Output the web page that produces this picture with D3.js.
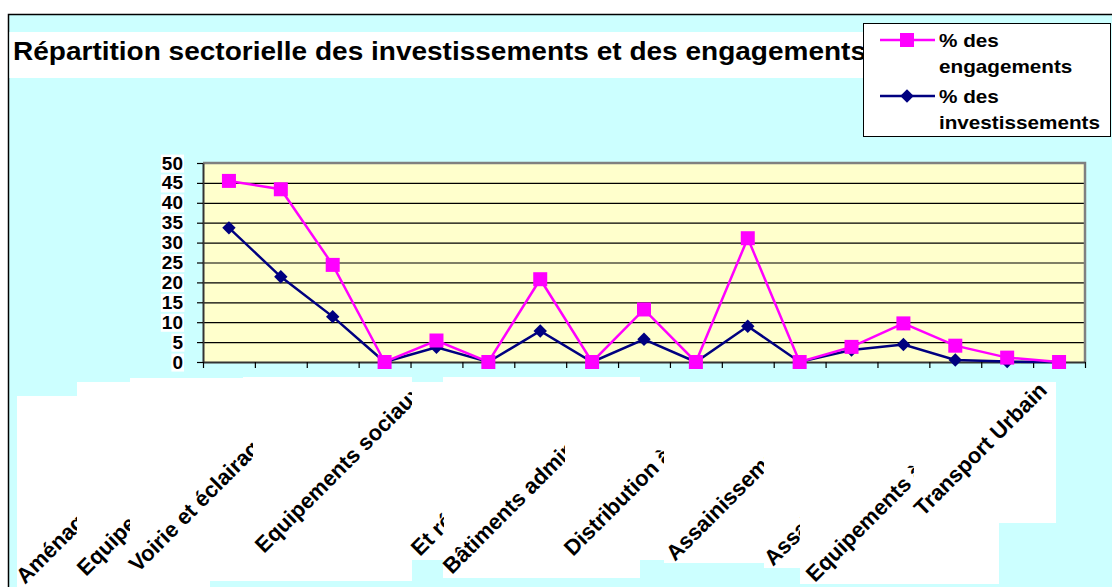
<!DOCTYPE html>
<html>
<head>
<meta charset="utf-8">
<script src="https://cdn.jsdelivr.net/npm/d3@7"></script>
<style>
body{margin:0;background:#fff}
svg{display:block;font-family:"Liberation Sans",Arial,sans-serif}
</style>
</head>
<body>
<script>
// data
var titre="Répartition sectorielle des investissements et des engagements"
var serieNoms=[["% des","engagements"],["% des","investissements"]]
var engagements=[45.5,43.4,24.4,0,5.4,0,20.8,0,13.2,0,31.1,0,3.8,9.7,4.1,1.1,0]
var investissements=[33.7,21.4,11.4,0,3.7,0,7.8,0,5.7,0,9.0,0,3.0,4.4,0.5,0.1,0]
var yTicks=[0,5,10,15,20,25,30,35,40,45,50]
var secteurs=["Aménagement urbain","Equipements commerciaux","Voirie et éclairage public",
  "Equipements sociaux","Et réseaux","Bâtiments administratifs","Distribution à domicile",
  "Assainissement liquide","Assainissement solide","Equipements à caractère économique","Transport Urbain"]

var screen={width:1112,height:587}
var plot={left:203,right:1085,top:163,bottom:362}
var pink="#FF00FF", navy="#000080"

var svg=d3.select("body").append("svg")
          .attr("width",screen.width)
          .attr("height",screen.height)

// chart frame
svg.append("rect")
   .attr("x",8.5).attr("y",14.5)
   .attr("width",screen.width+10).attr("height",screen.height)
   .attr("fill","#CCFFFF").attr("stroke","#000").attr("stroke-width",1.5)

// title band
svg.append("rect").attr("x",9.5).attr("y",32).attr("width",860).attr("height",46).attr("fill","#fff")
svg.append("text")
   .attr("x",13).attr("y",60)
   .attr("font-size",25).attr("font-weight","bold")
   .attr("textLength",853).attr("lengthAdjust","spacingAndGlyphs")
   .text(titre)

var n=engagements.length
var xScale=d3.scaleLinear().domain([0,n]).range([plot.left,plot.right])
var yScale=d3.scaleLinear().domain([0,50]).range([plot.bottom,plot.top])

// plot area + grid
svg.append("rect")
   .attr("x",plot.left).attr("y",plot.top)
   .attr("width",plot.right-plot.left).attr("height",plot.bottom-plot.top)
   .attr("fill","#FFFFCC")
svg.append("g").selectAll("line")
   .data(yTicks.filter(function(d){return d>0&&d<50}))
   .enter().append("line")
   .attr("x1",plot.left).attr("x2",plot.right)
   .attr("y1",function(d){return yScale(d)+0.5}).attr("y2",function(d){return yScale(d)+0.5})
   .attr("stroke","#000").attr("stroke-width",1.2)
svg.append("path")
   .attr("d","M"+plot.left+","+plot.top+"H"+plot.right+"V"+plot.bottom)
   .attr("fill","none").attr("stroke","#808080").attr("stroke-width",2.5)

// axes
var yAxis=d3.axisLeft(yScale).tickValues(yTicks).tickSize(6).tickSizeOuter(0).tickPadding(14)
var gy=svg.append("g").attr("transform","translate("+plot.left+",0)").call(yAxis)
gy.select(".domain").attr("stroke","#333").attr("stroke-width",2)
gy.selectAll(".tick line").attr("stroke","#000").attr("stroke-width",1.2)
gy.selectAll(".tick text").attr("font-size",19).attr("font-weight","bold").attr("fill","#000")
  .attr("font-family","Liberation Sans, Arial, sans-serif")
gy.selectAll(".tick").each(function(){
  var t=d3.select(this).select("text"), b=t.node().getBBox()
  d3.select(this).insert("rect","text")
    .attr("x",b.x-1).attr("y",b.y+2).attr("width",b.width+2).attr("height",b.height-3)
    .attr("fill","#fff")
})

var xAxis=d3.axisBottom(xScale).tickValues(d3.range(n+1)).tickSize(6).tickSizeOuter(0).tickFormat("")
var gx=svg.append("g").attr("transform","translate(0,"+plot.bottom+")").call(xAxis)
gx.select(".domain").attr("stroke","#333").attr("stroke-width",2)
gx.selectAll(".tick line").attr("stroke","#000").attr("stroke-width",1.2)

// lines and markers
var drawLine=d3.line()
               .x(function(d,i){return xScale(i+0.5)})
               .y(function(d){return yScale(d)})
var diamond=d3.symbol(d3.symbolSquare,90)

svg.append("path").datum(investissements)
   .attr("d",drawLine).attr("fill","none").attr("stroke",navy).attr("stroke-width",2.5)
svg.append("g").selectAll("path").data(investissements).enter().append("path")
   .attr("d",diamond)
   .attr("transform",function(d,i){return "translate("+xScale(i+0.5)+","+yScale(d)+") rotate(45)"})
   .attr("fill",navy)

svg.append("path").datum(engagements)
   .attr("d",drawLine).attr("fill","none").attr("stroke",pink).attr("stroke-width",2.5)
svg.append("g").selectAll("rect").data(engagements).enter().append("rect")
   .attr("x",function(d,i){return xScale(i+0.5)-7})
   .attr("y",function(d){return yScale(d)-7})
   .attr("width",14).attr("height",14)
   .attr("fill",pink)

// category labels: white boxes, each label cut where the next box begins
var labelLayout=[
  {box:[17,396,77,600],cut:77,sx:25,sy:585},
  {box:[77,382,210,600],cut:130,sx:86,sy:577},
  {box:[130,378,333,581],cut:253,sx:138,sy:573},
  {box:[243,377,412,581],cut:412,sx:264,sy:554},
  {box:[333,382,444,560],cut:444,sx:420,sy:557},
  {box:[443,377,640,578],cut:565,sx:452,sy:575},
  {box:[555,382,664,560],cut:664,sx:573,sy:557},
  {box:[664,382,764,563],cut:764,sx:675,sy:562},
  {box:[764,382,800,568],cut:800,sx:773,sy:567},
  {box:[800,382,999,584],cut:914,sx:815,sy:583},
  {box:[914,382,1056,523],cut:1056,sx:923,sy:517}
]
var labels=svg.append("g")
labels.selectAll("rect").data(labelLayout).enter().append("rect")
   .attr("x",function(d){return d.box[0]}).attr("y",function(d){return d.box[1]})
   .attr("width",function(d){return d.box[2]-d.box[0]}).attr("height",function(d){return d.box[3]-d.box[1]})
   .attr("fill","#fff")
var defs=svg.append("defs")
labelLayout.forEach(function(d,i){
  defs.append("clipPath").attr("id","clip"+i)
      .append("rect").attr("x",d.box[0]-30).attr("y",d.box[1])
      .attr("width",d.cut-d.box[0]+30).attr("height",d.box[3]-d.box[1]+10)
})
labels.selectAll("g").data(secteurs).enter().append("g")
   .attr("clip-path",function(d,i){return "url(#clip"+i+")"})
   .append("text")
   .attr("transform",function(d,i){return "translate("+labelLayout[i].sx+","+labelLayout[i].sy+") rotate(-45)"})
   .attr("font-size",22).attr("font-weight","bold")
   .text(function(d){return d})

// legend
var legend=svg.append("g")
legend.append("rect").attr("x",863.5).attr("y",23.5).attr("width",247).attr("height",113)
      .attr("fill","#fff").attr("stroke","#000").attr("stroke-width",1)
var entries=legend.selectAll("g").data(serieNoms).enter().append("g")
      .attr("transform",function(d,i){return "translate(0,"+(40+i*56)+")"})
entries.append("line").attr("x1",880).attr("x2",935).attr("y1",0).attr("y2",0)
      .attr("stroke",function(d,i){return i==0?pink:navy}).attr("stroke-width",2.5)
entries.each(function(d,i){
  var g=d3.select(this)
  if(i==0) g.append("rect").attr("x",900).attr("y",-7).attr("width",14).attr("height",14).attr("fill",pink)
  else g.append("path").attr("d",diamond).attr("transform","translate(907,0) rotate(45)").attr("fill",navy)
})
entries.append("text").attr("transform","translate(939,7) scale(1.15,1)")
      .attr("font-size",18).attr("font-weight","bold")
      .selectAll("tspan").data(function(d){return d}).enter().append("tspan")
      .attr("x",0).attr("dy",function(d,i){return i==0?0:26})
      .text(function(d){return d})
</script>
</body>
</html>
